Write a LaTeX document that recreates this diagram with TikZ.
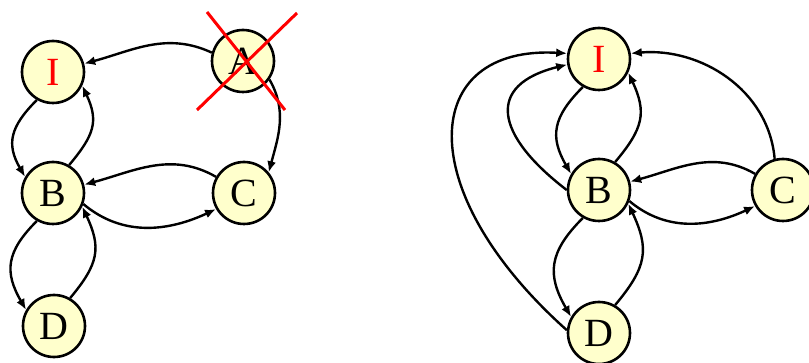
\documentclass[tikz,border=0pt]{standalone}
\usepackage{fontspec}
\setmainfont{Liberation Serif}
\usetikzlibrary{arrows.meta}
\definecolor{nodefill}{RGB}{255,255,204}

\begin{document}
\begin{tikzpicture}[x=0.5pt,y=0.5pt,
  nd/.style={circle,draw,line width=1.3pt,fill=nodefill,minimum size=31pt,inner sep=0pt,font=\fontsize{20}{22}\selectfont},
  ar/.style={-{Latex[length=5.5pt,width=4.5pt]},line width=1.2pt},
  cross/.style={red,line width=1.5pt}
]
\useasboundingbox (0,0) rectangle (809,-363);

% Left: graph with A removed
\node[nd,text=red] (Il) at (53,-72)  {I};
\node[nd]          (Al) at (243,-61) {A};
\node[nd]          (Bl) at (53,-193) {B};
\node[nd]          (Cl) at (244,-193){C};
\node[nd]          (Dl) at (54,-326) {D};
\draw[ar] (Al.165) to[out=155,in=15] (Il.15);
\draw[ar] (Al.-35) to[out=-60,in=75] (Cl.40);
\draw[ar] (Il.240) to[out=225,in=120,looseness=1.25] (Bl.150);
\draw[ar] (Bl.60) to[out=50,in=-65,looseness=1.25] (Il.-25);
\draw[ar] (Cl.150) to[out=150,in=15] (Bl.15);
\draw[ar] (Bl.-20) to[out=-40,in=205] (Cl.210);
\draw[ar] (Bl.240) to[out=225,in=120,looseness=1.25] (Dl.150);
\draw[ar] (Dl.60) to[out=50,in=-65,looseness=1.25] (Bl.-25);
\draw[cross] (207,-12) -- (285,-110);
\draw[cross] (297,-13) -- (197,-110);

% Right: graph after bypassing A
\node[nd,text=red] (Ir) at (599,-59)  {I};
\node[nd]          (Br) at (599,-190) {B};
\node[nd]          (Cr) at (783,-190) {C};
\node[nd]          (Dr) at (599,-333) {D};
\draw[ar] (Cr.105) to[out=95,in=5] (Ir.10);
\draw[ar] (Ir.240) to[out=225,in=120,looseness=1.25] (Br.150);
\draw[ar] (Br.60) to[out=50,in=-65,looseness=1.25] (Ir.-25);
\draw[ar] (Br.180) .. controls (495,-135) and (485,-85) .. (Ir.190);
\draw[ar] (Dr.175) .. controls (410,-190) and (420,-45) .. (Ir.170);
\draw[ar] (Cr.150) to[out=150,in=15] (Br.15);
\draw[ar] (Br.-20) to[out=-40,in=205] (Cr.210);
\draw[ar] (Br.240) to[out=225,in=120,looseness=1.25] (Dr.150);
\draw[ar] (Dr.60) to[out=50,in=-65,looseness=1.25] (Br.-25);
\end{tikzpicture}
\end{document}
